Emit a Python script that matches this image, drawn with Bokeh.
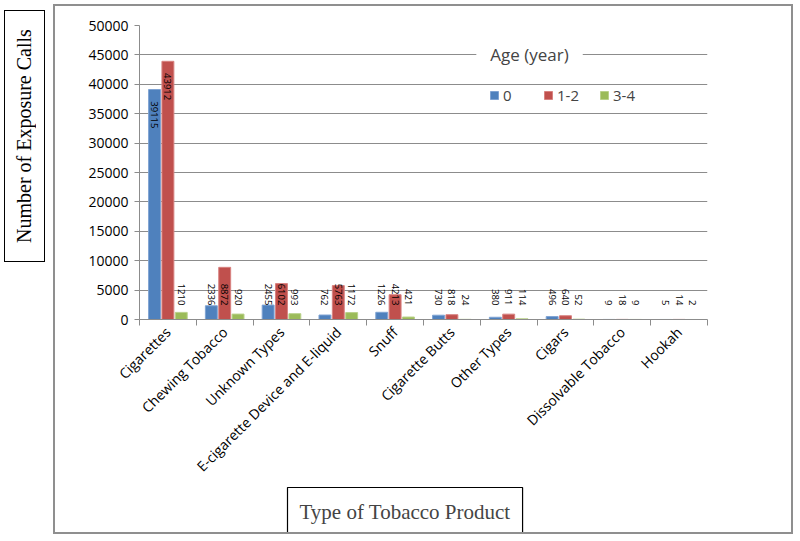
import math
from bokeh.plotting import figure
from bokeh.layouts import row
from bokeh.models import (ColumnDataSource, FixedTicker, Range1d, Label, Title, Div,
                          Legend, LegendItem)
from bokeh.core.properties import value
from bokeh.embed import file_html
from bokeh.resources import INLINE

categories = ["Cigarettes", "Chewing Tobacco", "Unknown Types", "E-cigarette Device and E-liquid",
              "Snuff", "Cigarette Butts", "Other Types", "Cigars", "Dissolvable Tobacco", "Hookah"]
age_0 = [39115, 2336, 2455, 762, 1226, 730, 380, 496, 9, 5]
age_1_2 = [43912, 8872, 6102, 5763, 4213, 818, 911, 640, 18, 14]
age_3_4 = [1210, 920, 993, 1172, 421, 24, 114, 52, 9, 2]
series_names = ["0", "1-2", "3-4"]
colors = ["#4F81BD", "#C0504D", "#9BBB59"]
borders = ["#7FA3D3", "#D88280", "#B9D18A"]
y_ticks = list(range(0, 50001, 5000))
y_title = "Number of Exposure Calls"
x_title = "Type of Tobacco Product"
legend_title = "Age (year)"

# main chart
p = figure(width=740, height=530, output_backend="svg", toolbar_location=None,
           x_range=Range1d(0, len(categories)), y_range=Range1d(0, 50000),
           min_border_left=84, min_border_right=88, min_border_top=19, min_border_bottom=217)
p.outline_line_color = None
p.margin = (4, 0, 0, 8)
p.styles = {"border": "2px solid #8F8F8F"}

offsets = [-0.235, 0.0, 0.235]
bw = 0.21
renderers = []
for k, vals in enumerate([age_0, age_1_2, age_3_4]):
    xs = [i + 0.5 + offsets[k] for i in range(len(categories))]
    src = ColumnDataSource(dict(x=xs, top=vals))
    r = p.vbar(x="x", top="top", width=bw, source=src, fill_color=colors[k],
               line_color=borders[k], line_width=1)
    renderers.append(r)
    big = [v >= 20000 for v in vals]
    ly = [v - 2000 if b else 2400 for v, b in zip(vals, big)]
    al = ["left" if b else "right" for b in big]
    lsrc = ColumnDataSource(dict(x=xs, y=ly, t=[str(v) for v in vals], al=al))
    p.text(x="x", y="y", text="t", source=lsrc, angle=-math.pi / 2, text_align="al",
           text_baseline="middle", text_font=value("Open Sans"), text_font_size="9.5px",
           text_color="black")

p.xgrid.visible = False
p.ygrid.ticker = FixedTicker(ticks=y_ticks)
p.ygrid.grid_line_color = "#8C8C8C"
p.ygrid.level = "underlay"

p.yaxis.ticker = FixedTicker(ticks=y_ticks)
p.yaxis.axis_line_color = "#8C8C8C"
p.yaxis.major_tick_line_color = "#8C8C8C"
p.yaxis.major_tick_out = 5
p.yaxis.major_tick_in = 0
p.yaxis.minor_tick_line_color = None
p.yaxis.major_label_text_font = "Open Sans"
p.yaxis.major_label_text_font_size = "14px"
p.yaxis.major_label_text_color = "black"
p.yaxis.major_label_standoff = 6

centers = [i + 0.5 for i in range(len(categories))]
p.xaxis.ticker = FixedTicker(ticks=centers, minor_ticks=list(range(len(categories) + 1)))
p.xaxis.major_label_overrides = {c: n for c, n in zip(centers, categories)}
p.xaxis.major_tick_line_color = None
p.xaxis.minor_tick_line_color = "#8C8C8C"
p.xaxis.minor_tick_out = 6
p.xaxis.minor_tick_in = 0
p.xaxis.axis_line_color = "#8C8C8C"
p.xaxis.major_label_orientation = math.pi / 4
p.xaxis.major_label_text_font = "Open Sans"
p.xaxis.major_label_text_font_size = "14px"
p.xaxis.major_label_text_color = "black"
p.xaxis.major_label_standoff = 4

legend = Legend(items=[LegendItem(label=n, renderers=[r]) for n, r in zip(series_names, renderers)],
                orientation="horizontal", location=(350, 214), glyph_width=10, glyph_height=10,
                label_text_font="Open Sans", label_text_font_size="15px", spacing=20,
                label_standoff=4, padding=0, margin=0, border_line_color=None,
                background_fill_alpha=0)
p.add_layout(legend, "center")
p.add_layout(Label(x=5.93, y=45000, text=legend_title, text_font="Open Sans", text_font_size="17px",
                   text_baseline="middle", background_fill_color="white", padding=14))

p.add_layout(Title(text=x_title, align="left", offset=148,
                   text_font="Liberation Serif", text_font_size="21px", text_font_style="normal",
                   border_line_color="black", border_line_width=1.2, padding=12, standoff=0),
             "below")

# y title box
yt = Div(text=('<div style="writing-mode: vertical-rl; transform: rotate(180deg); '
               'font-family: \'Liberation Serif\'; font-size: 20px; color: black; '
               'line-height: 39px; width: 39px; height: 250px; text-align: center; '
               'white-space: nowrap;">' + y_title + '</div>'),
         width=41, height=252,
         styles={"border": "1.2px solid black", "box-sizing": "border-box",
                 "overflow": "hidden"})
yt.margin = (10, 0, 0, 4)

layout = row(yt, p, spacing=0)
open("out.html", "w").write(file_html(layout, INLINE))
